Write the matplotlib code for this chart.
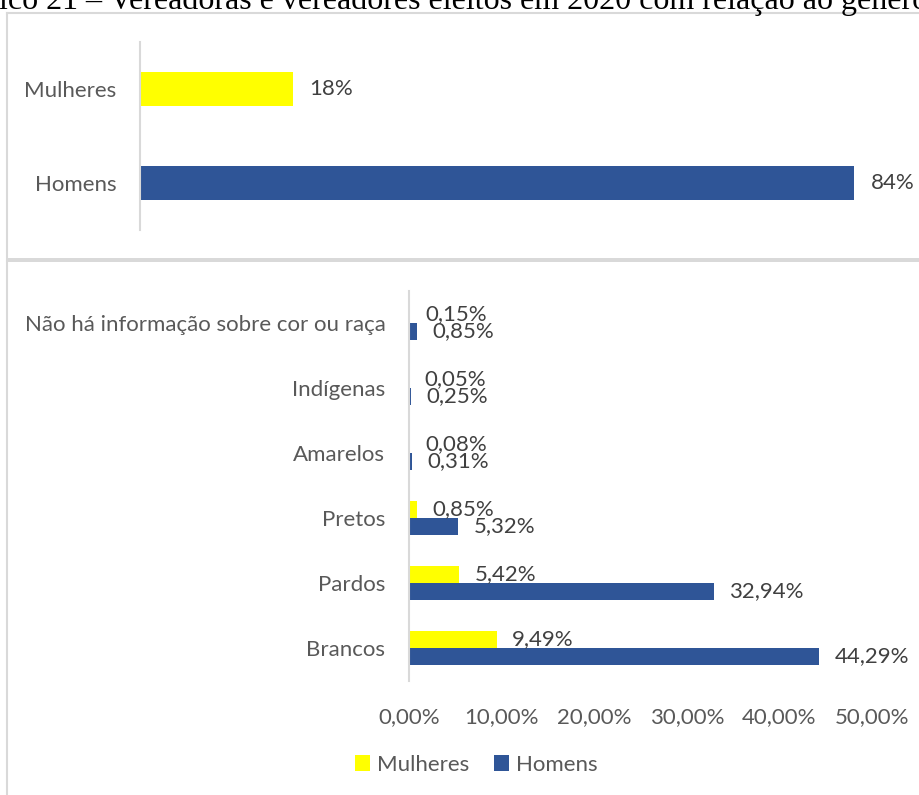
import matplotlib
matplotlib.use("Agg")
import matplotlib.pyplot as plt
from matplotlib.lines import Line2D
from matplotlib.patches import Rectangle, Patch

# ---- data ----
title_text = "ico 21 – Vereadoras e vereadores eleitos em 2020 com relação ao gênero"

gender_cats = ["Homens", "Mulheres"]
gender_vals = [84, 18]
gender_labels = ["84%", "18%"]

race_cats = ["Brancos", "Pardos", "Pretos", "Amarelos", "Indígenas",
             "Não há informação sobre cor ou raça"]
race_mulheres = [9.49, 5.42, 0.85, 0.08, 0.05, 0.15]
race_homens = [44.29, 32.94, 5.32, 0.31, 0.25, 0.85]
race_xticks = [0, 10, 20, 30, 40, 50]
race_xticklabels = ["0,00%", "10,00%", "20,00%", "30,00%", "40,00%", "50,00%"]
series_names = ["Mulheres", "Homens"]

YELLOW = "#FFFF00"
BLUE = "#2F5597"
GRID = "#D9D9D9"
TXT = "#595959"
LBL = "#404040"

plt.rcParams["font.family"] = ["Lato", "DejaVu Sans"]
FS = 16

W, H = 920, 795
fig = plt.figure(figsize=(W / 100, H / 100), dpi=100)

def fx(px):
    return px / W

def fy(py):
    return 1 - py / H

# ---- frames ----
fig.add_artist(Line2D([fx(7), fx(7)], [fy(13), fy(260)], color=GRID, lw=1.5, transform=fig.transFigure))
fig.add_artist(Line2D([fx(7), fx(920)], [fy(13), fy(13)], color=GRID, lw=1.5, transform=fig.transFigure))
fig.add_artist(Rectangle((fx(7), fy(262)), fx(920) - fx(7), fy(258) - fy(262), color=GRID,
                         transform=fig.transFigure, lw=0))
fig.add_artist(Line2D([fx(7), fx(7)], [fy(262), fy(795)], color=GRID, lw=1.5, transform=fig.transFigure))

# ---- title (cut off like the reference) ----
fig.text(fx(-1), fy(9), title_text, family="Liberation Serif", fontsize=23, color="black",
         ha="left", va="baseline")

# ---- top chart ----
ax1 = fig.add_axes([fx(140), fy(230), fx(905) - fx(140), (230 - 42) / H])
y1 = list(range(len(gender_cats)))
b1 = ax1.barh(y1, gender_vals, height=0.36, color=[BLUE, YELLOW])
ax1.set_xlim(0, 90)
ax1.set_ylim(-0.5, len(gender_cats) - 0.5)
ax1.set_yticks(y1)
ax1.set_yticklabels(gender_cats, fontsize=FS, color=TXT)
ax1.set_xticks([])
ax1.tick_params(axis="y", length=0, pad=17)
for s in ["top", "right", "bottom"]:
    ax1.spines[s].set_visible(False)
ax1.spines["left"].set_color(GRID)
ax1.spines["left"].set_linewidth(1.5)
ax1.bar_label(b1, labels=gender_labels, padding=12, fontsize=FS, color=LBL)

# ---- bottom chart ----
ax2 = fig.add_axes([fx(409), fy(680.5), fx(872) - fx(409), (680.5 - 290.5) / H])
y2 = list(range(len(race_cats)))
h = 0.262
bm = ax2.barh([y + h / 2 for y in y2], race_mulheres, height=h, color=YELLOW, label=series_names[0])
bh = ax2.barh([y - h / 2 for y in y2], race_homens, height=h, color=BLUE, label=series_names[1])
ax2.set_xlim(0, 50)
ax2.set_ylim(-0.5, len(race_cats) - 0.5)
ax2.set_yticks(y2)
ax2.set_yticklabels(race_cats, fontsize=FS, color=TXT)
ax2.set_xticks(race_xticks)
ax2.set_xticklabels(race_xticklabels, fontsize=FS, color=TXT)
ax2.tick_params(axis="y", length=0, pad=17)
ax2.tick_params(axis="x", length=0, pad=19)
for s in ["top", "right", "bottom"]:
    ax2.spines[s].set_visible(False)
ax2.spines["left"].set_color(GRID)
ax2.spines["left"].set_linewidth(1.5)

def fmt(v):
    return f"{v:.2f}".replace(".", ",") + "%"

ax2.bar_label(bm, labels=[fmt(v) for v in race_mulheres], padding=11, fontsize=FS, color=LBL)
ax2.bar_label(bh, labels=[fmt(v) for v in race_homens], padding=11, fontsize=FS, color=LBL)

# ---- legend ----
handles = [Patch(facecolor=YELLOW, edgecolor="none"), Patch(facecolor=BLUE, edgecolor="none")]
leg = fig.legend(handles, series_names, loc="center", bbox_to_anchor=(fx(476), fy(765)), ncol=2,
                 frameon=False, fontsize=FS, handlelength=0.7, handleheight=0.7,
                 handletextpad=0.3, columnspacing=1.1)
for t in leg.get_texts():
    t.set_color(TXT)

fig.savefig("out.png", dpi=100)
